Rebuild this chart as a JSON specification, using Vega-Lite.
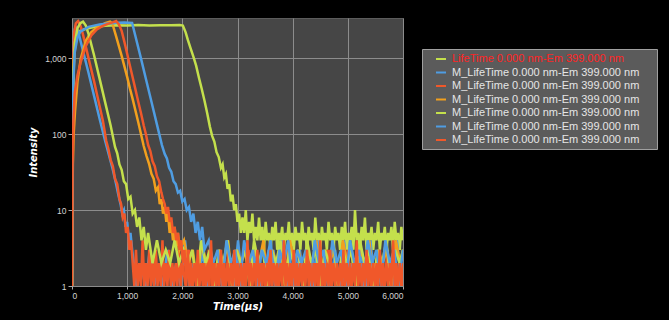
{
"$schema":"https://vega.github.io/schema/vega-lite/v6.json",
"width":331,"height":268,
"autosize":{"type":"none"},
"padding":{"left":72,"top":18,"right":266,"bottom":34},
"background":"#000000",
"config":{"view":{"fill":"#464646","stroke":"#5c5c5c"}},
"data":{"values":[
{"s":"1","t":0,"v":1},{"s":"1","t":8,"v":50},{"s":"1","t":20,"v":400},{"s":"1","t":40,"v":1100},{"s":"1","t":70,"v":1700},{"s":"1","t":100,"v":2000},{"s":"1","t":150,"v":2300},{"s":"1","t":250,"v":2450},{"s":"1","t":400,"v":2580},{"s":"1","t":600,"v":2680},{"s":"1","t":800,"v":2720},{"s":"1","t":1000,"v":2700},{"s":"1","t":1200,"v":2740},{"s":"1","t":1400,"v":2710},{"s":"1","t":1600,"v":2730},{"s":"1","t":1800,"v":2720},{"s":"1","t":1950,"v":2740},{"s":"1","t":2010,"v":2700},{"s":"1","t":2060,"v":2200},{"s":"1","t":2100,"v":1750},{"s":"1","t":2150,"v":1350},{"s":"1","t":2200,"v":1050},{"s":"1","t":2250,"v":800},{"s":"1","t":2300,"v":560},{"s":"1","t":2350,"v":400},{"s":"1","t":2400,"v":280},{"s":"1","t":2450,"v":190},{"s":"1","t":2500,"v":125},{"s":"1","t":2540,"v":95},{"s":"1","t":2580,"v":80},{"s":"1","t":2620,"v":58},{"s":"1","t":2660,"v":50},{"s":"1","t":2700,"v":36},{"s":"1","t":2730,"v":40},{"s":"1","t":2760,"v":27},{"s":"1","t":2790,"v":30},{"s":"1","t":2820,"v":19},{"s":"1","t":2850,"v":22},{"s":"1","t":2880,"v":13},{"s":"1","t":2910,"v":16},{"s":"1","t":2940,"v":10},{"s":"1","t":2970,"v":12},{"s":"1","t":3000,"v":7},{"s":"1","t":3030,"v":9},{"s":"1","t":3060,"v":5},{"s":"1","t":3090,"v":8},{"s":"1","t":3120,"v":5},{"s":"1","t":3150,"v":10},{"s":"1","t":3180,"v":4},{"s":"1","t":3210,"v":7},{"s":"1","t":3240,"v":5},{"s":"1","t":3270,"v":9},{"s":"1","t":3300,"v":4},{"s":"1","t":3330,"v":6},{"s":"1","t":3360,"v":4},{"s":"1","t":3390,"v":8},{"s":"1","t":3420,"v":4},{"s":"1","t":3450,"v":6},{"s":"1","t":3480,"v":3},{"s":"1","t":3510,"v":7},{"s":"1","t":3540,"v":4},{"s":"1","t":3570,"v":5},{"s":"1","t":3600,"v":3},{"s":"1","t":3630,"v":6},{"s":"1","t":3660,"v":4},{"s":"1","t":3690,"v":7},{"s":"1","t":3720,"v":3},{"s":"1","t":3750,"v":5},{"s":"1","t":3780,"v":4},{"s":"1","t":3810,"v":6},{"s":"1","t":3840,"v":3},{"s":"1","t":3870,"v":5},{"s":"1","t":3900,"v":4},{"s":"1","t":3930,"v":7},{"s":"1","t":3960,"v":3},{"s":"1","t":3990,"v":5},{"s":"1","t":4020,"v":3},{"s":"1","t":4050,"v":6},{"s":"1","t":4080,"v":4},{"s":"1","t":4110,"v":5},{"s":"1","t":4140,"v":3},{"s":"1","t":4170,"v":7},{"s":"1","t":4200,"v":4},{"s":"1","t":4230,"v":5},{"s":"1","t":4260,"v":3},{"s":"1","t":4290,"v":6},{"s":"1","t":4320,"v":4},{"s":"1","t":4350,"v":5},{"s":"1","t":4380,"v":3},{"s":"1","t":4410,"v":8},{"s":"1","t":4440,"v":4},{"s":"1","t":4470,"v":5},{"s":"1","t":4500,"v":3},{"s":"1","t":4530,"v":6},{"s":"1","t":4560,"v":4},{"s":"1","t":4590,"v":5},{"s":"1","t":4620,"v":3},{"s":"1","t":4650,"v":7},{"s":"1","t":4680,"v":4},{"s":"1","t":4710,"v":5},{"s":"1","t":4740,"v":3},{"s":"1","t":4770,"v":6},{"s":"1","t":4800,"v":4},{"s":"1","t":4830,"v":5},{"s":"1","t":4860,"v":3},{"s":"1","t":4890,"v":6},{"s":"1","t":4920,"v":4},{"s":"1","t":4950,"v":7},{"s":"1","t":4980,"v":3},{"s":"1","t":5010,"v":5},{"s":"1","t":5040,"v":4},{"s":"1","t":5070,"v":6},{"s":"1","t":5100,"v":3},{"s":"1","t":5130,"v":10},{"s":"1","t":5160,"v":4},{"s":"1","t":5190,"v":5},{"s":"1","t":5220,"v":3},{"s":"1","t":5250,"v":6},{"s":"1","t":5280,"v":4},{"s":"1","t":5310,"v":8},{"s":"1","t":5340,"v":3},{"s":"1","t":5370,"v":5},{"s":"1","t":5400,"v":4},{"s":"1","t":5430,"v":6},{"s":"1","t":5460,"v":3},{"s":"1","t":5490,"v":5},{"s":"1","t":5520,"v":4},{"s":"1","t":5550,"v":7},{"s":"1","t":5580,"v":3},{"s":"1","t":5610,"v":5},{"s":"1","t":5640,"v":4},{"s":"1","t":5670,"v":6},{"s":"1","t":5700,"v":3},{"s":"1","t":5730,"v":5},{"s":"1","t":5760,"v":4},{"s":"1","t":5790,"v":6},{"s":"1","t":5820,"v":3},{"s":"1","t":5850,"v":7},{"s":"1","t":5880,"v":4},{"s":"1","t":5910,"v":5},{"s":"1","t":5940,"v":3},{"s":"1","t":5970,"v":6},{"s":"1","t":6000,"v":4},
{"s":"2","t":0,"v":1},{"s":"2","t":10,"v":150},{"s":"2","t":20,"v":800},{"s":"2","t":35,"v":1800},{"s":"2","t":50,"v":2400},{"s":"2","t":65,"v":2600},{"s":"2","t":80,"v":2550},{"s":"2","t":120,"v":2150},{"s":"2","t":200,"v":1250},{"s":"2","t":300,"v":640},{"s":"2","t":400,"v":320},{"s":"2","t":500,"v":160},{"s":"2","t":600,"v":82},{"s":"2","t":680,"v":50},{"s":"2","t":740,"v":34},{"s":"2","t":800,"v":22},{"s":"2","t":840,"v":16},{"s":"2","t":880,"v":12},{"s":"2","t":910,"v":9},{"s":"2","t":940,"v":10},{"s":"2","t":970,"v":6},{"s":"2","t":1000,"v":7},{"s":"2","t":1030,"v":4},{"s":"2","t":1060,"v":5},{"s":"2","t":1090,"v":3},{"s":"2","t":1170,"v":1},{"s":"2","t":1250,"v":2},{"s":"2","t":1330,"v":1},{"s":"2","t":1410,"v":3},{"s":"2","t":1490,"v":1},{"s":"2","t":1570,"v":2},{"s":"2","t":1650,"v":1},{"s":"2","t":1730,"v":3},{"s":"2","t":1810,"v":1},{"s":"2","t":1890,"v":2},{"s":"2","t":1970,"v":1},{"s":"2","t":2050,"v":4},{"s":"2","t":2130,"v":1},{"s":"2","t":2210,"v":2},{"s":"2","t":2290,"v":1},{"s":"2","t":2370,"v":3},{"s":"2","t":2450,"v":1},{"s":"2","t":2530,"v":2},{"s":"2","t":2610,"v":1},{"s":"2","t":2690,"v":3},{"s":"2","t":2770,"v":1},{"s":"2","t":2850,"v":2},{"s":"2","t":2930,"v":1},{"s":"2","t":3010,"v":4},{"s":"2","t":3090,"v":1},{"s":"2","t":3170,"v":2},{"s":"2","t":3250,"v":1},{"s":"2","t":3330,"v":3},{"s":"2","t":3410,"v":1},{"s":"2","t":3490,"v":2},{"s":"2","t":3570,"v":1},{"s":"2","t":3650,"v":3},{"s":"2","t":3730,"v":1},{"s":"2","t":3810,"v":4},{"s":"2","t":3890,"v":1},{"s":"2","t":3970,"v":2},{"s":"2","t":4050,"v":1},{"s":"2","t":4130,"v":3},{"s":"2","t":4210,"v":1},{"s":"2","t":4290,"v":2},{"s":"2","t":4370,"v":1},{"s":"2","t":4450,"v":4},{"s":"2","t":4530,"v":1},{"s":"2","t":4610,"v":2},{"s":"2","t":4690,"v":1},{"s":"2","t":4770,"v":3},{"s":"2","t":4850,"v":1},{"s":"2","t":4930,"v":4},{"s":"2","t":5010,"v":1},{"s":"2","t":5090,"v":2},{"s":"2","t":5170,"v":1},{"s":"2","t":5250,"v":3},{"s":"2","t":5330,"v":1},{"s":"2","t":5410,"v":4},{"s":"2","t":5490,"v":1},{"s":"2","t":5570,"v":3},{"s":"2","t":5650,"v":1},{"s":"2","t":5730,"v":2},{"s":"2","t":5810,"v":1},{"s":"2","t":5890,"v":4},{"s":"2","t":5970,"v":1},{"s":"2","t":6000,"v":2},
{"s":"3","t":0,"v":1},{"s":"3","t":8,"v":100},{"s":"3","t":20,"v":900},{"s":"3","t":40,"v":2200},{"s":"3","t":70,"v":2900},{"s":"3","t":110,"v":3100},{"s":"3","t":150,"v":2750},{"s":"3","t":200,"v":2050},{"s":"3","t":300,"v":1000},{"s":"3","t":400,"v":500},{"s":"3","t":500,"v":235},{"s":"3","t":560,"v":150},{"s":"3","t":620,"v":82},{"s":"3","t":660,"v":64},{"s":"3","t":700,"v":46},{"s":"3","t":740,"v":38},{"s":"3","t":780,"v":26},{"s":"3","t":820,"v":22},{"s":"3","t":860,"v":14},{"s":"3","t":890,"v":12},{"s":"3","t":920,"v":8},{"s":"3","t":950,"v":9},{"s":"3","t":980,"v":5},{"s":"3","t":1010,"v":6},{"s":"3","t":1040,"v":3},{"s":"3","t":1070,"v":4},{"s":"3","t":1100,"v":2},{"s":"3","t":1130,"v":1},{"s":"3","t":1160,"v":3},{"s":"3","t":1190,"v":1},{"s":"3","t":1220,"v":2},{"s":"3","t":1250,"v":1},{"s":"3","t":1280,"v":4},{"s":"3","t":1310,"v":1},{"s":"3","t":1340,"v":2},{"s":"3","t":1370,"v":1},{"s":"3","t":1400,"v":3},{"s":"3","t":1430,"v":1},{"s":"3","t":1460,"v":2},{"s":"3","t":1490,"v":1},{"s":"3","t":1520,"v":3},{"s":"3","t":1550,"v":1},{"s":"3","t":1580,"v":2},{"s":"3","t":1610,"v":1},{"s":"3","t":1640,"v":4},{"s":"3","t":1670,"v":1},{"s":"3","t":1700,"v":2},{"s":"3","t":1730,"v":1},{"s":"3","t":1760,"v":3},{"s":"3","t":1790,"v":1},{"s":"3","t":1820,"v":2},{"s":"3","t":1850,"v":1},{"s":"3","t":1880,"v":2},{"s":"3","t":1910,"v":1},{"s":"3","t":1940,"v":3},{"s":"3","t":1970,"v":1},{"s":"3","t":2000,"v":2},{"s":"3","t":2060,"v":1},{"s":"3","t":2120,"v":3},{"s":"3","t":2180,"v":1},{"s":"3","t":2240,"v":2},{"s":"3","t":2300,"v":1},{"s":"3","t":2360,"v":2},{"s":"3","t":2420,"v":1},{"s":"3","t":2480,"v":3},{"s":"3","t":2540,"v":1},{"s":"3","t":2600,"v":2},{"s":"3","t":2660,"v":1},{"s":"3","t":2720,"v":2},{"s":"3","t":2780,"v":1},{"s":"3","t":2840,"v":3},{"s":"3","t":2900,"v":1},{"s":"3","t":2960,"v":2},{"s":"3","t":3020,"v":1},{"s":"3","t":3080,"v":2},{"s":"3","t":3140,"v":1},{"s":"3","t":3200,"v":3},{"s":"3","t":3260,"v":1},{"s":"3","t":3320,"v":2},{"s":"3","t":3380,"v":1},{"s":"3","t":3440,"v":2},{"s":"3","t":3500,"v":1},{"s":"3","t":3560,"v":3},{"s":"3","t":3620,"v":1},{"s":"3","t":3680,"v":2},{"s":"3","t":3740,"v":1},{"s":"3","t":3800,"v":2},{"s":"3","t":3860,"v":1},{"s":"3","t":3920,"v":3},{"s":"3","t":3980,"v":1},{"s":"3","t":4040,"v":2},{"s":"3","t":4100,"v":1},{"s":"3","t":4160,"v":2},{"s":"3","t":4220,"v":1},{"s":"3","t":4280,"v":3},{"s":"3","t":4340,"v":1},{"s":"3","t":4400,"v":2},{"s":"3","t":4460,"v":1},{"s":"3","t":4520,"v":2},{"s":"3","t":4580,"v":1},{"s":"3","t":4640,"v":3},{"s":"3","t":4700,"v":1},{"s":"3","t":4760,"v":2},{"s":"3","t":4820,"v":1},{"s":"3","t":4880,"v":2},{"s":"3","t":4940,"v":1},{"s":"3","t":5000,"v":3},{"s":"3","t":5060,"v":1},{"s":"3","t":5120,"v":2},{"s":"3","t":5180,"v":1},{"s":"3","t":5240,"v":2},{"s":"3","t":5300,"v":1},{"s":"3","t":5360,"v":3},{"s":"3","t":5420,"v":1},{"s":"3","t":5480,"v":2},{"s":"3","t":5540,"v":1},{"s":"3","t":5600,"v":2},{"s":"3","t":5660,"v":1},{"s":"3","t":5720,"v":3},{"s":"3","t":5780,"v":1},{"s":"3","t":5840,"v":2},{"s":"3","t":5900,"v":1},{"s":"3","t":5960,"v":2},{"s":"3","t":6000,"v":1},
{"s":"4","t":0,"v":1},{"s":"4","t":15,"v":40},{"s":"4","t":30,"v":100},{"s":"4","t":55,"v":200},{"s":"4","t":100,"v":500},{"s":"4","t":160,"v":1000},{"s":"4","t":250,"v":1700},{"s":"4","t":345,"v":2200},{"s":"4","t":450,"v":2550},{"s":"4","t":525,"v":2700},{"s":"4","t":600,"v":2900},{"s":"4","t":690,"v":3050},{"s":"4","t":730,"v":2900},{"s":"4","t":800,"v":1950},{"s":"4","t":900,"v":1080},{"s":"4","t":1000,"v":570},{"s":"4","t":1050,"v":400},{"s":"4","t":1100,"v":290},{"s":"4","t":1200,"v":145},{"s":"4","t":1300,"v":70},{"s":"4","t":1350,"v":52},{"s":"4","t":1400,"v":40},{"s":"4","t":1440,"v":30},{"s":"4","t":1480,"v":26},{"s":"4","t":1520,"v":18},{"s":"4","t":1560,"v":20},{"s":"4","t":1590,"v":12},{"s":"4","t":1620,"v":14},{"s":"4","t":1650,"v":9},{"s":"4","t":1680,"v":11},{"s":"4","t":1710,"v":7},{"s":"4","t":1740,"v":9},{"s":"4","t":1770,"v":5},{"s":"4","t":1800,"v":7},{"s":"4","t":1830,"v":4},{"s":"4","t":1860,"v":6},{"s":"4","t":1890,"v":3},{"s":"4","t":1920,"v":5},{"s":"4","t":1950,"v":3},{"s":"4","t":2030,"v":4},{"s":"4","t":2110,"v":2},{"s":"4","t":2190,"v":3},{"s":"4","t":2270,"v":1},{"s":"4","t":2350,"v":4},{"s":"4","t":2430,"v":2},{"s":"4","t":2510,"v":3},{"s":"4","t":2590,"v":1},{"s":"4","t":2670,"v":3},{"s":"4","t":2750,"v":2},{"s":"4","t":2830,"v":4},{"s":"4","t":2910,"v":1},{"s":"4","t":2990,"v":3},{"s":"4","t":3070,"v":2},{"s":"4","t":3150,"v":3},{"s":"4","t":3230,"v":1},{"s":"4","t":3310,"v":3},{"s":"4","t":3390,"v":2},{"s":"4","t":3470,"v":4},{"s":"4","t":3550,"v":1},{"s":"4","t":3630,"v":3},{"s":"4","t":3710,"v":2},{"s":"4","t":3790,"v":3},{"s":"4","t":3870,"v":1},{"s":"4","t":3950,"v":4},{"s":"4","t":4030,"v":2},{"s":"4","t":4110,"v":3},{"s":"4","t":4190,"v":1},{"s":"4","t":4270,"v":3},{"s":"4","t":4350,"v":2},{"s":"4","t":4430,"v":4},{"s":"4","t":4510,"v":1},{"s":"4","t":4590,"v":3},{"s":"4","t":4670,"v":2},{"s":"4","t":4750,"v":3},{"s":"4","t":4830,"v":1},{"s":"4","t":4910,"v":4},{"s":"4","t":4990,"v":2},{"s":"4","t":5070,"v":3},{"s":"4","t":5150,"v":1},{"s":"4","t":5230,"v":3},{"s":"4","t":5310,"v":2},{"s":"4","t":5390,"v":4},{"s":"4","t":5470,"v":1},{"s":"4","t":5550,"v":3},{"s":"4","t":5630,"v":2},{"s":"4","t":5710,"v":3},{"s":"4","t":5790,"v":1},{"s":"4","t":5870,"v":4},{"s":"4","t":5950,"v":2},{"s":"4","t":6000,"v":3},
{"s":"5","t":0,"v":1},{"s":"5","t":10,"v":100},{"s":"5","t":25,"v":700},{"s":"5","t":50,"v":1600},{"s":"5","t":100,"v":2500},{"s":"5","t":150,"v":2900},{"s":"5","t":200,"v":3050},{"s":"5","t":250,"v":2700},{"s":"5","t":300,"v":2100},{"s":"5","t":400,"v":1100},{"s":"5","t":500,"v":540},{"s":"5","t":600,"v":265},{"s":"5","t":700,"v":130},{"s":"5","t":780,"v":68},{"s":"5","t":820,"v":56},{"s":"5","t":860,"v":40},{"s":"5","t":900,"v":34},{"s":"5","t":940,"v":24},{"s":"5","t":980,"v":22},{"s":"5","t":1020,"v":14},{"s":"5","t":1060,"v":15},{"s":"5","t":1100,"v":9},{"s":"5","t":1140,"v":10},{"s":"5","t":1180,"v":6},{"s":"5","t":1220,"v":8},{"s":"5","t":1260,"v":4},{"s":"5","t":1300,"v":6},{"s":"5","t":1340,"v":3},{"s":"5","t":1380,"v":5},{"s":"5","t":1460,"v":2},{"s":"5","t":1540,"v":4},{"s":"5","t":1620,"v":2},{"s":"5","t":1700,"v":3},{"s":"5","t":1780,"v":2},{"s":"5","t":1860,"v":4},{"s":"5","t":1940,"v":2},{"s":"5","t":2020,"v":3},{"s":"5","t":2100,"v":2},{"s":"5","t":2180,"v":3},{"s":"5","t":2260,"v":1},{"s":"5","t":2340,"v":4},{"s":"5","t":2420,"v":2},{"s":"5","t":2500,"v":3},{"s":"5","t":2580,"v":1},{"s":"5","t":2660,"v":3},{"s":"5","t":2740,"v":2},{"s":"5","t":2820,"v":4},{"s":"5","t":2900,"v":1},{"s":"5","t":2980,"v":3},{"s":"5","t":3060,"v":2},{"s":"5","t":3140,"v":3},{"s":"5","t":3220,"v":1},{"s":"5","t":3300,"v":4},{"s":"5","t":3380,"v":2},{"s":"5","t":3460,"v":3},{"s":"5","t":3540,"v":1},{"s":"5","t":3620,"v":3},{"s":"5","t":3700,"v":2},{"s":"5","t":3780,"v":4},{"s":"5","t":3860,"v":1},{"s":"5","t":3940,"v":3},{"s":"5","t":4020,"v":2},{"s":"5","t":4100,"v":3},{"s":"5","t":4180,"v":1},{"s":"5","t":4260,"v":4},{"s":"5","t":4340,"v":2},{"s":"5","t":4420,"v":3},{"s":"5","t":4500,"v":1},{"s":"5","t":4580,"v":3},{"s":"5","t":4660,"v":2},{"s":"5","t":4740,"v":4},{"s":"5","t":4820,"v":1},{"s":"5","t":4900,"v":3},{"s":"5","t":4980,"v":2},{"s":"5","t":5060,"v":3},{"s":"5","t":5140,"v":1},{"s":"5","t":5220,"v":4},{"s":"5","t":5300,"v":2},{"s":"5","t":5380,"v":3},{"s":"5","t":5460,"v":1},{"s":"5","t":5540,"v":3},{"s":"5","t":5620,"v":2},{"s":"5","t":5700,"v":4},{"s":"5","t":5780,"v":1},{"s":"5","t":5860,"v":3},{"s":"5","t":5940,"v":2},{"s":"5","t":6000,"v":3},
{"s":"6","t":0,"v":1},{"s":"6","t":10,"v":80},{"s":"6","t":25,"v":500},{"s":"6","t":50,"v":1200},{"s":"6","t":100,"v":1900},{"s":"6","t":150,"v":2250},{"s":"6","t":300,"v":2600},{"s":"6","t":500,"v":2800},{"s":"6","t":700,"v":2900},{"s":"6","t":830,"v":2950},{"s":"6","t":950,"v":2960},{"s":"6","t":1090,"v":2920},{"s":"6","t":1150,"v":1950},{"s":"6","t":1250,"v":1000},{"s":"6","t":1350,"v":500},{"s":"6","t":1450,"v":250},{"s":"6","t":1550,"v":125},{"s":"6","t":1630,"v":72},{"s":"6","t":1680,"v":55},{"s":"6","t":1720,"v":48},{"s":"6","t":1760,"v":36},{"s":"6","t":1800,"v":32},{"s":"6","t":1840,"v":24},{"s":"6","t":1880,"v":22},{"s":"6","t":1920,"v":17},{"s":"6","t":1960,"v":18},{"s":"6","t":2000,"v":13},{"s":"6","t":2040,"v":14},{"s":"6","t":2080,"v":10},{"s":"6","t":2120,"v":11},{"s":"6","t":2160,"v":7},{"s":"6","t":2200,"v":9},{"s":"6","t":2240,"v":5},{"s":"6","t":2280,"v":7},{"s":"6","t":2320,"v":4},{"s":"6","t":2360,"v":6},{"s":"6","t":2400,"v":3},{"s":"6","t":2480,"v":4},{"s":"6","t":2560,"v":2},{"s":"6","t":2640,"v":3},{"s":"6","t":2720,"v":1},{"s":"6","t":2800,"v":4},{"s":"6","t":2880,"v":2},{"s":"6","t":2960,"v":3},{"s":"6","t":3040,"v":1},{"s":"6","t":3120,"v":4},{"s":"6","t":3200,"v":2},{"s":"6","t":3280,"v":3},{"s":"6","t":3360,"v":1},{"s":"6","t":3440,"v":3},{"s":"6","t":3520,"v":2},{"s":"6","t":3600,"v":4},{"s":"6","t":3680,"v":1},{"s":"6","t":3760,"v":3},{"s":"6","t":3840,"v":2},{"s":"6","t":3920,"v":4},{"s":"6","t":4000,"v":1},{"s":"6","t":4080,"v":3},{"s":"6","t":4160,"v":2},{"s":"6","t":4240,"v":3},{"s":"6","t":4320,"v":1},{"s":"6","t":4400,"v":4},{"s":"6","t":4480,"v":2},{"s":"6","t":4560,"v":3},{"s":"6","t":4640,"v":1},{"s":"6","t":4720,"v":4},{"s":"6","t":4800,"v":2},{"s":"6","t":4880,"v":3},{"s":"6","t":4960,"v":1},{"s":"6","t":5040,"v":4},{"s":"6","t":5120,"v":2},{"s":"6","t":5200,"v":3},{"s":"6","t":5280,"v":1},{"s":"6","t":5360,"v":4},{"s":"6","t":5440,"v":2},{"s":"6","t":5520,"v":3},{"s":"6","t":5600,"v":1},{"s":"6","t":5680,"v":4},{"s":"6","t":5760,"v":2},{"s":"6","t":5840,"v":3},{"s":"6","t":5920,"v":1},{"s":"6","t":6000,"v":3},
{"s":"7","t":0,"v":1},{"s":"7","t":10,"v":40},{"s":"7","t":25,"v":150},{"s":"7","t":50,"v":350},{"s":"7","t":100,"v":600},{"s":"7","t":160,"v":900},{"s":"7","t":250,"v":1450},{"s":"7","t":350,"v":2000},{"s":"7","t":450,"v":2400},{"s":"7","t":550,"v":2650},{"s":"7","t":650,"v":2850},{"s":"7","t":750,"v":3000},{"s":"7","t":800,"v":3100},{"s":"7","t":850,"v":2800},{"s":"7","t":900,"v":2300},{"s":"7","t":950,"v":1650},{"s":"7","t":1000,"v":1150},{"s":"7","t":1050,"v":800},{"s":"7","t":1100,"v":560},{"s":"7","t":1150,"v":390},{"s":"7","t":1200,"v":270},{"s":"7","t":1250,"v":190},{"s":"7","t":1300,"v":130},{"s":"7","t":1340,"v":100},{"s":"7","t":1380,"v":72},{"s":"7","t":1420,"v":60},{"s":"7","t":1460,"v":44},{"s":"7","t":1500,"v":38},{"s":"7","t":1540,"v":28},{"s":"7","t":1580,"v":24},{"s":"7","t":1620,"v":17},{"s":"7","t":1650,"v":14},{"s":"7","t":1680,"v":12},{"s":"7","t":1710,"v":9},{"s":"7","t":1740,"v":11},{"s":"7","t":1770,"v":7},{"s":"7","t":1800,"v":8},{"s":"7","t":1830,"v":5},{"s":"7","t":1860,"v":6},{"s":"7","t":1890,"v":4},{"s":"7","t":1920,"v":5},{"s":"7","t":1950,"v":3},{"s":"7","t":1980,"v":4},{"s":"7","t":2010,"v":2},{"s":"7","t":2040,"v":3},{"s":"7","t":2070,"v":1},{"s":"7","t":2100,"v":3},{"s":"7","t":2130,"v":1},{"s":"7","t":2160,"v":2},{"s":"7","t":2190,"v":1},{"s":"7","t":2220,"v":2},{"s":"7","t":2250,"v":1},{"s":"7","t":2280,"v":3},{"s":"7","t":2310,"v":1},{"s":"7","t":2340,"v":2},{"s":"7","t":2370,"v":1},{"s":"7","t":2400,"v":2},{"s":"7","t":2430,"v":1},{"s":"7","t":2460,"v":2},{"s":"7","t":2490,"v":1},{"s":"7","t":2520,"v":4},{"s":"7","t":2550,"v":1},{"s":"7","t":2580,"v":2},{"s":"7","t":2610,"v":1},{"s":"7","t":2640,"v":2},{"s":"7","t":2670,"v":1},{"s":"7","t":2700,"v":3},{"s":"7","t":2730,"v":1},{"s":"7","t":2760,"v":2},{"s":"7","t":2790,"v":1},{"s":"7","t":2820,"v":2},{"s":"7","t":2850,"v":1},{"s":"7","t":2880,"v":2},{"s":"7","t":2910,"v":1},{"s":"7","t":2940,"v":3},{"s":"7","t":2970,"v":1},{"s":"7","t":3000,"v":2},{"s":"7","t":3030,"v":1},{"s":"7","t":3060,"v":2},{"s":"7","t":3090,"v":1},{"s":"7","t":3120,"v":2},{"s":"7","t":3150,"v":1},{"s":"7","t":3180,"v":4},{"s":"7","t":3210,"v":1},{"s":"7","t":3240,"v":2},{"s":"7","t":3270,"v":1},{"s":"7","t":3300,"v":2},{"s":"7","t":3330,"v":1},{"s":"7","t":3360,"v":3},{"s":"7","t":3390,"v":1},{"s":"7","t":3420,"v":2},{"s":"7","t":3450,"v":1},{"s":"7","t":3480,"v":2},{"s":"7","t":3510,"v":1},{"s":"7","t":3540,"v":2},{"s":"7","t":3570,"v":1},{"s":"7","t":3600,"v":3},{"s":"7","t":3630,"v":1},{"s":"7","t":3660,"v":2},{"s":"7","t":3690,"v":1},{"s":"7","t":3720,"v":2},{"s":"7","t":3750,"v":1},{"s":"7","t":3780,"v":2},{"s":"7","t":3810,"v":1},{"s":"7","t":3840,"v":4},{"s":"7","t":3870,"v":1},{"s":"7","t":3900,"v":2},{"s":"7","t":3930,"v":1},{"s":"7","t":3960,"v":2},{"s":"7","t":3990,"v":1},{"s":"7","t":4020,"v":3},{"s":"7","t":4050,"v":1},{"s":"7","t":4080,"v":2},{"s":"7","t":4110,"v":1},{"s":"7","t":4140,"v":2},{"s":"7","t":4170,"v":1},{"s":"7","t":4200,"v":2},{"s":"7","t":4230,"v":1},{"s":"7","t":4260,"v":3},{"s":"7","t":4290,"v":1},{"s":"7","t":4320,"v":2},{"s":"7","t":4350,"v":1},{"s":"7","t":4380,"v":2},{"s":"7","t":4410,"v":1},{"s":"7","t":4440,"v":2},{"s":"7","t":4470,"v":1},{"s":"7","t":4500,"v":4},{"s":"7","t":4530,"v":1},{"s":"7","t":4560,"v":2},{"s":"7","t":4590,"v":1},{"s":"7","t":4620,"v":2},{"s":"7","t":4650,"v":1},{"s":"7","t":4680,"v":3},{"s":"7","t":4710,"v":1},{"s":"7","t":4740,"v":2},{"s":"7","t":4770,"v":1},{"s":"7","t":4800,"v":2},{"s":"7","t":4830,"v":1},{"s":"7","t":4860,"v":2},{"s":"7","t":4890,"v":1},{"s":"7","t":4920,"v":3},{"s":"7","t":4950,"v":1},{"s":"7","t":4980,"v":2},{"s":"7","t":5010,"v":1},{"s":"7","t":5040,"v":2},{"s":"7","t":5070,"v":1},{"s":"7","t":5100,"v":2},{"s":"7","t":5130,"v":1},{"s":"7","t":5160,"v":4},{"s":"7","t":5190,"v":1},{"s":"7","t":5220,"v":2},{"s":"7","t":5250,"v":1},{"s":"7","t":5280,"v":2},{"s":"7","t":5310,"v":1},{"s":"7","t":5340,"v":3},{"s":"7","t":5370,"v":1},{"s":"7","t":5400,"v":2},{"s":"7","t":5430,"v":1},{"s":"7","t":5460,"v":2},{"s":"7","t":5490,"v":1},{"s":"7","t":5520,"v":2},{"s":"7","t":5550,"v":1},{"s":"7","t":5580,"v":3},{"s":"7","t":5610,"v":1},{"s":"7","t":5640,"v":2},{"s":"7","t":5670,"v":1},{"s":"7","t":5700,"v":2},{"s":"7","t":5730,"v":1},{"s":"7","t":5760,"v":2},{"s":"7","t":5790,"v":1},{"s":"7","t":5820,"v":4},{"s":"7","t":5850,"v":1},{"s":"7","t":5880,"v":2},{"s":"7","t":5910,"v":1},{"s":"7","t":5940,"v":2},{"s":"7","t":5970,"v":1},{"s":"7","t":6000,"v":2}
]},
"mark":{"type":"line","strokeWidth":2.5,"clip":true,"interpolate":"linear"},
"encoding":{
"x":{"field":"t","type":"quantitative","scale":{"domain":[0,6000],"nice":false,"zero":false},
"axis":{"values":[0,1000,2000,3000,4000,5000,6000],"format":",.0f","labelColor":"#d4d4d4","labelFont":"Liberation Sans","labelFontSize":8.5,"labelPadding":2,"tickSize":3,"tickColor":"#aaaaaa","domain":false,"gridColor":"#8c8c8c","gridOpacity":1,"gridWidth":1,"title":"Time(μs)","titleColor":"#ffffff","titleFont":"DejaVu Sans","titleFontStyle":"italic","titleFontWeight":"bold","titleFontSize":10,"titlePadding":2}},
"y":{"field":"v","type":"quantitative","scale":{"type":"log","domain":[1,3400],"nice":false},
"axis":{"values":[1,10,100,1000],"format":",.0f","labelColor":"#d4d4d4","labelFont":"Liberation Sans","labelFontSize":8.5,"labelPadding":2,"tickSize":4,"tickColor":"#aaaaaa","domain":false,"gridColor":"#8c8c8c","gridOpacity":1,"gridWidth":1,"title":"Intensity","titleColor":"#ffffff","titleFont":"DejaVu Sans","titleFontStyle":"italic","titleFontWeight":"bold","titleFontSize":10,"titlePadding":6}},
"color":{"field":"s","type":"nominal",
"scale":{"domain":["1","2","3","4","5","6","7"],"range":["#c4e04c","#4f9de2","#f0582a","#f2a01e","#c4e04c","#4f9de2","#f0582a"]},
"legend":{"orient":"none","legendX":350,"legendY":31,"title":" ","titleOrient":"right","titlePadding":14,"titleFontSize":8,"symbolType":"stroke","symbolSize":100,"symbolStrokeWidth":2,"symbolOffset":9,"labelOffset":5,"labelFont":"Liberation Sans","labelFontSize":11,"labelColor":"#e6e6e6","labelLimit":260,"rowPadding":2.5,"padding":4,"fillColor":"#5b5b5b","strokeColor":"#a0a0a0",
"labelExpr":"datum.value == '1' ? 'LifeTime 0.000 nm-Em 399.000 nm' : 'M_LifeTime 0.000 nm-Em 399.000 nm'",
"encode":{"labels":{"update":{"fill":{"signal":"datum.value == '1' ? '#ff2424' : '#e6e6e6'"}}}}}}
}
}
